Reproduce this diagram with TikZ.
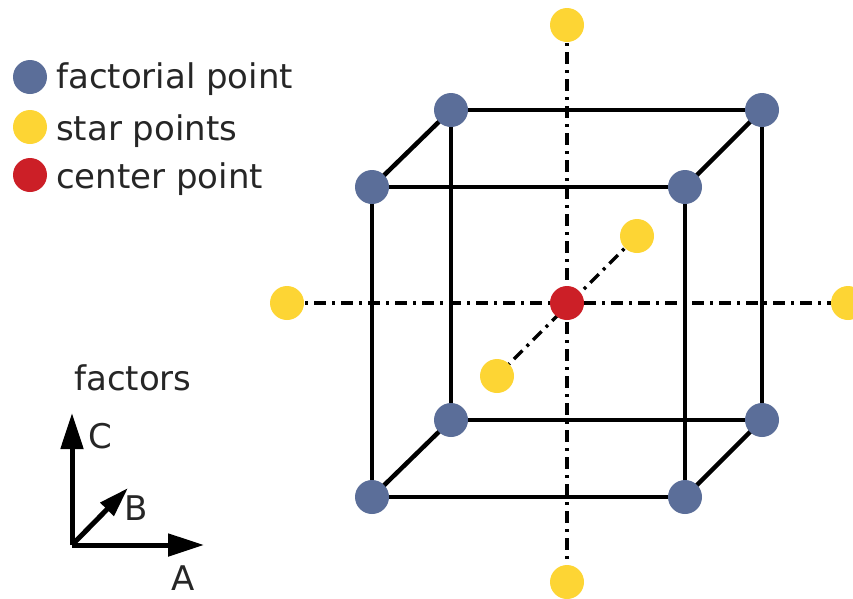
\documentclass[tikz,border=0pt]{standalone}
\usepackage{fontspec}
\setmainfont{DejaVu Sans}
\usetikzlibrary{arrows.meta}
\definecolor{factblue}{RGB}{91,110,153}
\definecolor{staryellow}{RGB}{253,213,52}
\definecolor{centred}{RGB}{204,31,39}
\begin{document}
\begin{tikzpicture}[x=1pt,y=-1pt,
  fpt/.style={circle,fill=factblue,inner sep=0pt,minimum size=34pt},
  spt/.style={circle,fill=staryellow,inner sep=0pt,minimum size=34pt},
  cpt/.style={circle,fill=centred,inner sep=0pt,minimum size=34pt},
  edge/.style={line width=4.5pt,black},
  axisline/.style={line width=3.5pt,black,dash pattern=on 12pt off 6pt on 3pt off 6pt},
  arr/.style={line width=5pt,-{Triangle[length=36pt,width=22pt]}},
  lbl/.style={font=\fontsize{34}{38}\selectfont,text=black!85,inner sep=0pt},
]
\useasboundingbox (0,0) rectangle (853,598);
% coordinates
\coordinate (f1) at (372,187);
\coordinate (f2) at (685,187);
\coordinate (f3) at (685,497);
\coordinate (f4) at (372,497);
\coordinate (b1) at (451,110);
\coordinate (b2) at (762,110);
\coordinate (b3) at (762,420);
\coordinate (b4) at (451,420);
% dash-dot axes
\coordinate (stop) at (567,25);
\coordinate (sbot) at (567,582);
\coordinate (sleft) at (287,303);
\coordinate (sright) at (848,303);
\coordinate (sdiag1) at (637,236);
\coordinate (sdiag2) at (497,376);
\draw[axisline] (stop) -- (sbot);
\draw[axisline] (sleft) -- (sright);
\draw[axisline] (sdiag1) -- (sdiag2);
% cube
\draw[edge] (f1) -- (f2) -- (f3) -- (f4) -- cycle;
\draw[edge] (b1) -- (b2) -- (b3) -- (b4) -- cycle;
\draw[edge] (f1) -- (b1);
\draw[edge] (f2) -- (b2);
\draw[edge] (f3) -- (b3);
\draw[edge] (f4) -- (b4);
% points
\foreach \p in {f1,f2,f3,f4,b1,b2,b3,b4} \node[fpt] at (\p) {};
\foreach \p in {stop,sbot,sleft,sright,sdiag1,sdiag2} \node[spt] at (\p) {};
\node[cpt] (ctr) at (567,303) {};
% legend
\node[fpt] (lg1) at (30,77) {};
\node[spt] (lg2) at (30,127) {};
\node[cpt] (lg3) at (30,175) {};
\node[lbl,anchor=base west] (lt1) at (56,88) {factorial point};
\node[lbl,anchor=base west] (lt2) at (56,140) {star points};
\node[lbl,anchor=base west] (lt3) at (56,188) {center point};
% factors axes
\coordinate (o) at (72,545);
\coordinate (ctip) at (72,413);
\coordinate (atip) at (204,545);
\coordinate (btip) at (128,488);
\draw[arr] (o) -- (ctip);
\draw[arr] (o) -- (atip);
\draw[line width=5pt,-{Triangle[length=30pt,width=18pt]}] (o) -- (btip);
\node[lbl,anchor=base west] (fac) at (74,390) {factors};
\node[lbl,anchor=base west] (lc) at (88,448) {C};
\node[lbl,anchor=base west] (lb) at (124,520) {B};
\node[lbl,anchor=base west] (la) at (171,590) {A};
\end{tikzpicture}
\end{document}
